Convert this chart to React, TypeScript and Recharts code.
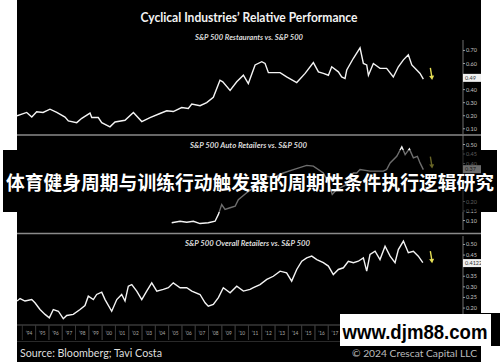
import React from 'react';
import { LineChart, Line, XAxis, YAxis, ReferenceDot } from 'recharts';

// ---- data (decimal year, relative ratio) ----
const restaurantsSeries: [number, number][] = [
  [1993.6, 0.199], [1994.33, 0.225], [1994.71, 0.19], [1995.08, 0.23], [1995.56, 0.225],
  [1996.08, 0.25], [1996.59, 0.225], [1997.21, 0.19], [1997.46, 0.16], [1998.09, 0.147],
  [1998.47, 0.18], [1999.09, 0.22], [1999.22, 0.186], [1999.71, 0.186], [1999.97, 0.147],
  [2000.59, 0.115], [2000.97, 0.152], [2001.72, 0.165], [2002.35, 0.225], [2002.98, 0.155],
  [2003.6, 0.186], [2004.35, 0.217], [2004.86, 0.238], [2005.35, 0.232], [2005.98, 0.263],
  [2006.48, 0.256], [2006.74, 0.29], [2007.36, 0.277], [2007.86, 0.3], [2008.36, 0.341],
  [2008.86, 0.472], [2009.07, 0.46], [2009.62, 0.394], [2010.12, 0.46], [2010.62, 0.51],
  [2010.99, 0.446], [2011.5, 0.589], [2012.0, 0.614], [2012.25, 0.6], [2012.5, 0.53],
  [2013.38, 0.53], [2013.87, 0.497], [2014.63, 0.454], [2015.26, 0.524], [2015.88, 0.607],
  [2016.26, 0.536], [2016.63, 0.524], [2017.01, 0.51], [2017.26, 0.575], [2017.76, 0.536],
  [2018.01, 0.497], [2018.26, 0.485], [2018.39, 0.55], [2018.89, 0.64], [2019.39, 0.72],
  [2019.64, 0.6], [2019.89, 0.589], [2020.02, 0.51], [2020.39, 0.6], [2020.89, 0.563],
  [2021.39, 0.563], [2021.89, 0.497], [2022.27, 0.575], [2022.65, 0.628], [2023.02, 0.667],
  [2023.28, 0.589], [2023.65, 0.55], [2023.9, 0.524], [2024.15, 0.48],
];

const autoRetailersSeries: [number, number][] = [
  [2005.23, 0.088], [2005.86, 0.096], [2006.36, 0.091], [2006.86, 0.096], [2007.36, 0.084],
  [2007.98, 0.088], [2008.49, 0.096], [2008.74, 0.132], [2008.99, 0.184], [2009.24, 0.158],
  [2009.62, 0.167], [2010.0, 0.175], [2010.24, 0.21], [2010.87, 0.246], [2011.37, 0.272],
  [2011.87, 0.298], [2012.38, 0.333], [2012.87, 0.325], [2013.62, 0.35], [2014.38, 0.368],
  [2015.38, 0.39], [2015.88, 0.386], [2016.63, 0.35], [2017.0, 0.3], [2017.3, 0.237],
  [2017.64, 0.263], [2017.89, 0.272], [2018.39, 0.29], [2018.89, 0.35], [2019.14, 0.35],
  [2019.39, 0.368], [2020.14, 0.36], [2020.39, 0.36], [2021.14, 0.36], [2021.39, 0.368],
  [2021.65, 0.403], [2022.15, 0.438], [2022.53, 0.488], [2022.78, 0.447], [2023.1, 0.477],
  [2023.4, 0.43], [2023.7, 0.438], [2023.9, 0.403], [2024.15, 0.368],
];

const overallRetailersSeries: [number, number][] = [
  [1993.6, 0.233], [1993.83, 0.245], [1994.2, 0.233], [1994.71, 0.24], [1994.95, 0.225],
  [1995.33, 0.193], [1995.71, 0.17], [1996.03, 0.154], [1996.33, 0.193], [1996.71, 0.185],
  [1997.08, 0.15], [1997.34, 0.165], [1997.83, 0.17], [1998.34, 0.193], [1998.71, 0.212],
  [1998.96, 0.256], [1999.34, 0.24], [1999.59, 0.264], [1999.97, 0.275], [2000.22, 0.24],
  [2000.72, 0.185], [2001.1, 0.24], [2001.47, 0.264], [2001.72, 0.233], [2001.97, 0.303],
  [2002.23, 0.311], [2002.6, 0.28], [2002.98, 0.24], [2003.35, 0.28], [2003.73, 0.319],
  [2004.11, 0.28], [2004.6, 0.288], [2004.98, 0.296], [2005.35, 0.319], [2005.86, 0.296],
  [2006.36, 0.296], [2006.74, 0.28], [2007.36, 0.264], [2007.74, 0.225], [2007.98, 0.209],
  [2008.36, 0.217], [2008.74, 0.249], [2009.11, 0.296], [2009.62, 0.272], [2010.12, 0.303],
  [2010.62, 0.28], [2011.12, 0.288], [2011.37, 0.296], [2011.87, 0.311], [2012.38, 0.335],
  [2012.87, 0.35], [2013.38, 0.374], [2013.87, 0.366], [2014.25, 0.327], [2014.63, 0.382],
  [2015.01, 0.421], [2015.38, 0.437], [2015.76, 0.445], [2016.14, 0.429], [2016.63, 0.414],
  [2017.01, 0.398], [2017.38, 0.358], [2017.76, 0.382], [2018.14, 0.39], [2018.51, 0.421],
  [2018.89, 0.414], [2019.26, 0.421], [2019.64, 0.437], [2019.89, 0.374], [2020.14, 0.453],
  [2020.52, 0.468], [2020.89, 0.429], [2021.27, 0.492], [2021.65, 0.445], [2022.02, 0.414],
  [2022.27, 0.476], [2022.65, 0.516], [2023.02, 0.461], [2023.4, 0.468], [2023.77, 0.445],
  [2024.11, 0.414],
];

const restaurantsTicks = [0.7, 0.6, 0.49, 0.4, 0.3, 0.2, 0.1];
// 0.30 and 0.25 sit under the banner in the reference and are not visible
const autoTicks = [0.5, 0.45, 0.4, 0.37, 0.2, 0.15, 0.1];
const overallTicks = [0.5, 0.45, 0.4122, 0.35, 0.3, 0.25, 0.2, 0.15];
// years whose labels are visible (later ones sit under the watermark)
const yearTicks = [1994, 1995, 1996, 1997, 1998, 1999, 2000, 2001, 2002, 2003, 2004, 2005, 2006,
  2007, 2008, 2009, 2010, 2011, 2012, 2013, 2014, 2015, 2016, 2017];

const currentValues = { restaurants: 0.49, auto: 0.37, overall: 0.4122 };
const arrowValues = { restaurants: 0.52, auto: 0.405, overall: 0.44 };
const arrowDate = 2024.75;

const TITLE = 'Cyclical Industries\u2019 Relative Performance';
const SUB1 = 'S&P 500 Restaurants vs. S&P 500';
const SUB2 = 'S&P 500 Auto Retailers vs. S&P 500';
const SUB3 = 'S&P 500 Overall Retailers vs. S&P 500';
const BANNER = '体育健身周期与训练行动触发器的周期性条件执行逻辑研究';
const SOURCE = 'Source: Bloomberg; Tavi Costa';
const COPYRIGHT = '\u00a9 2024 Crescat Capital LLC';
const WATERMARK = 'www.djm88.com';

const X_DOMAIN: [number, number] = [1993.6, 2027.13];
const toRows = (s: [number, number][]) => s.map(([date, v]) => ({ date, v }));

const FONT = 'Lato, "Open Sans", sans-serif';

const makeYTick = (current: number, label: string) => (props: any) => {
  const { x, y, payload } = props;
  const v = payload.value as number;
  if (Math.abs(v - current) < 1e-6) {
    return (
      <g>
        <rect x={x - 3} y={y - 4} width={22} height={8} fill="#f0f0f0" />
        <text x={x - 1} y={y} dy={2} fontSize={5.5} fill="#333" fontFamily={FONT}>{label}</text>
      </g>
    );
  }
  return (
    <text x={x} y={y} dy={2} fontSize={5.5} fill="#c4c4c4" fontFamily={FONT}>{v.toFixed(2)}</text>
  );
};

const Arrow = (props: any) => {
  const { cx, cy } = props;
  if (cx == null || cy == null) return null;
  return (
    <g>
      <line x1={cx - 1} y1={cy - 6} x2={cx + 0.5} y2={cy + 3} stroke="#e6df55" strokeWidth={1.4} />
      <polygon points={`${cx - 2.2},${cy + 2} ${cx + 2.8},${cy + 1.6} ${cx + 0.8},${cy + 6}`} fill="#e6df55" />
    </g>
  );
};

const YearTick = (props: any) => {
  const { x, y, payload } = props;
  const yr = Math.floor(payload.value as number);
  const half = 6.65;
  return (
    <g>
      <line x1={x - half} y1={y} x2={x - half} y2={y + 15} stroke="#3a3a3a" strokeWidth={0.8} />
      <line x1={x + half} y1={y} x2={x + half} y2={y + 15} stroke="#3a3a3a" strokeWidth={0.8} />
      <text x={x} y={y + 10} textAnchor="middle" fontSize={4.8} fill="#a8a8a8" fontFamily={FONT}>
        {'\u2019' + String(yr).slice(2)}
      </text>
    </g>
  );
};

const yearCenters = yearTicks.map((y) => y + 0.5);

function Panel(props: {
  top: number; height: number; data: [number, number][]; domain: [number, number];
  ticks: number[]; current: number; label: string; arrowY: number; showX?: boolean;
}) {
  const { top, height, data, domain, ticks, current, label, arrowY, showX } = props;
  return (
    <div style={{ position: 'absolute', left: 17, top, width: 464, height }}>
      <LineChart width={464} height={height} data={toRows(data)} margin={{ top: 0, right: 0, bottom: 0, left: 0 }}>
        <XAxis
          dataKey="date"
          type="number"
          domain={X_DOMAIN}
          allowDataOverflow
          hide={!showX}
          ticks={yearCenters}
          interval={0}
          tick={<YearTick />}
          tickLine={false}
          tickSize={0}
          tickMargin={0}
          height={16}
          axisLine={{ stroke: '#555', strokeWidth: 1 }}
        />
        <YAxis
          orientation="right"
          width={18}
          domain={domain}
          allowDataOverflow
          ticks={ticks}
          interval={0}
          tick={makeYTick(current, label)}
          tickSize={2}
          tickMargin={1}
          axisLine={{ stroke: '#8c8c8c', strokeWidth: 0.8 }}
          tickLine={{ stroke: '#bbb', strokeWidth: 0.8 }}
        />
        <Line
          type="linear"
          dataKey="v"
          stroke="#f4f4f4"
          strokeWidth={1.4}
          dot={false}
          isAnimationActive={false}
        />
        <ReferenceDot x={arrowDate} y={arrowY} r={0} shape={<Arrow />} ifOverflow="visible" />
      </LineChart>
    </div>
  );
}

export default function App() {
  return (
    <div style={{ position: 'absolute', left: 0, top: 0, width: 500, height: 362, background: '#ffffff', overflow: 'hidden' }}>
      <div style={{ position: 'absolute', left: 17, top: 0, width: 464, height: 362, background: '#000' }} />
      <Panel top={40} height={94} data={restaurantsSeries} domain={[0.06, 0.78]} ticks={restaurantsTicks}
        current={currentValues.restaurants} label="0.49" arrowY={arrowValues.restaurants} />
      <Panel top={135} height={95} data={autoRetailersSeries} domain={[0.05, 0.55]} ticks={autoTicks}
        current={currentValues.auto} label="0.37" arrowY={arrowValues.auto} />
      <Panel top={236} height={105} data={overallRetailersSeries} domain={[0.12, 0.54]} ticks={overallTicks}
        current={currentValues.overall} label="0.4122" arrowY={arrowValues.overall} showX />
      <svg width={500} height={362} style={{ position: 'absolute', left: 0, top: 0, pointerEvents: 'none' }}>
        <text x={249} y={21.5} textAnchor="middle" fontSize={13} fontWeight={700} fill="#f2f2f2"
          fontFamily={FONT} textLength={217} lengthAdjust="spacingAndGlyphs">{TITLE}</text>
        <text x={249} y={39.5} textAnchor="middle" fontSize={6.5} fontWeight={700} fontStyle="italic"
          fill="#dcdcdc" fontFamily={FONT} textLength={108} lengthAdjust="spacingAndGlyphs">{SUB1}</text>
        <line x1={17} y1={135} x2={481} y2={135} stroke="#8a8a8a" strokeWidth={1.4} />
        <text x={248.5} y={147.5} textAnchor="middle" fontSize={6.5} fontWeight={700} fontStyle="italic"
          fill="#dcdcdc" fontFamily={FONT} textLength={117} lengthAdjust="spacingAndGlyphs">{SUB2}</text>
        <line x1={17} y1={233.5} x2={481} y2={233.5} stroke="#8a8a8a" strokeWidth={1.4} />
        <text x={247.5} y={245.5} textAnchor="middle" fontSize={6.5} fontWeight={700} fontStyle="italic"
          fill="#dcdcdc" fontFamily={FONT} textLength={125} lengthAdjust="spacingAndGlyphs">{SUB3}</text>
        <line x1={17} y1={341.5} x2={463} y2={341.5} stroke="#333" strokeWidth={0.8} />
        <text x={20} y={357} fontSize={10.5} fill="#dedede" fontFamily={FONT}
          textLength={142} lengthAdjust="spacingAndGlyphs">{SOURCE}</text>
        <text x={477} y={357} textAnchor="end" fontSize={10} fill="#bdbdbd" fontFamily={FONT}
          textLength={125} lengthAdjust="spacingAndGlyphs">{COPYRIGHT}</text>
        {/* banner */}
        <rect x={3} y={150} width={14} height={62} fill="#000" />
        <rect x={17} y={150} width={464} height={62} fill="rgba(0,0,0,0.55)" />
        <rect x={481} y={150} width={16} height={62} fill="#000" />
        <text x={250} y={190} textAnchor="middle" fontSize={18.8} fontWeight={700} fill="#ffffff"
          fontFamily='"Noto Sans CJK SC", sans-serif' textLength={488} lengthAdjust="spacingAndGlyphs">{BANNER}</text>
        {/* watermark */}
        <rect x={481} y={313} width={19} height={33} fill="#000" />
        <rect x={340} y={314} width={151} height={32} fill="#ffffff" />
        <text x={415} y={339} textAnchor="middle" fontSize={20} fontWeight={700} fill="#000"
          fontFamily='"Liberation Sans", Arial, sans-serif' textLength={145} lengthAdjust="spacingAndGlyphs">{WATERMARK}</text>
      </svg>
    </div>
  );
}
